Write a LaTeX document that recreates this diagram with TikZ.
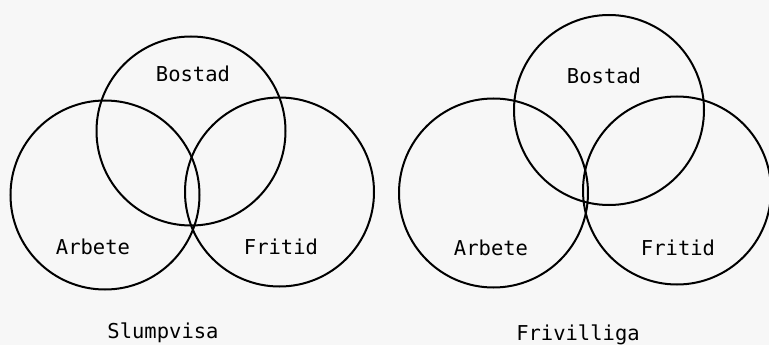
\documentclass[tikz,border=0pt]{standalone}
\usepackage{fontspec}
\setmonofont{DejaVu Sans Mono}
\begin{document}
\begin{tikzpicture}[x=1pt,y=-1pt,
  ring/.style={circle,draw=black,line width=2pt,inner sep=0pt,minimum size=#1},
  lbl/.style={font=\ttfamily\fontsize{20.5}{24}\selectfont,text=black,inner sep=0pt}]
\fill[black!3] (0,0) rectangle (769,345);
\useasboundingbox (0,0) rectangle (769,345);
% left diagram
\node[ring=189pt] (lb) at (191,131) {};
\node[ring=189pt] (la) at (105,195) {};
\node[ring=189pt] (lf) at (279.5,192) {};
\node[lbl] (lbt) at (193,74) {Bostad};
\node[lbl] (lat) at (93,247) {Arbete};
\node[lbl] (lft) at (281,247) {Fritid};
\node[lbl] (lcap) at (163,333) {Slumpvisa};
% right diagram
\node[ring=190pt] (rb) at (609,110) {};
\node[ring=189pt] (ra) at (493.5,193) {};
\node[ring=188pt] (rf) at (677,190.5) {};
\node[lbl] (rbt) at (604,76) {Bostad};
\node[lbl] (rat) at (491,248) {Arbete};
\node[lbl] (rft) at (678,248) {Fritid};
\node[lbl] (rcap) at (578,335) {Frivilliga};
\end{tikzpicture}
\end{document}
